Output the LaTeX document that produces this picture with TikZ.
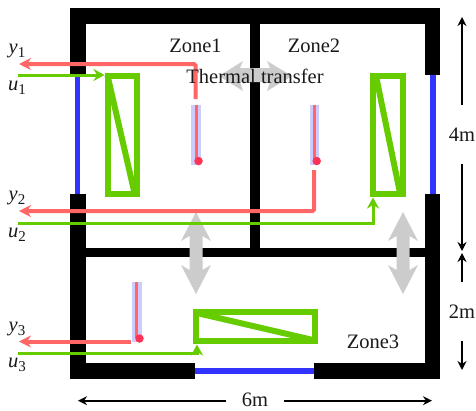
\documentclass[tikz,border=0pt]{standalone}
\usepackage{fontspec}
\setmainfont{Liberation Serif}
\usetikzlibrary{arrows.meta}
\definecolor{wallblue}{RGB}{51,51,255}
\definecolor{heatgreen}{RGB}{102,204,0}
\definecolor{sigred}{RGB}{255,102,102}
\definecolor{dotred}{RGB}{255,51,85}
\definecolor{sensorbg}{RGB}{204,204,255}
\definecolor{flowgray}{RGB}{204,204,204}
\newcommand{\lab}[2]{\textit{#1}\raisebox{-4pt}{\fontsize{15}{15}\selectfont #2}}
\tikzset{
  x=1pt,y=-1pt,
  wall/.style={fill=black,draw=none},
  window/.style={draw=wallblue,line width=5.5pt},
  heater/.style={draw=heatgreen,line width=6pt,line join=miter},
  heaterbox/.style={draw=heatgreen,line width=6pt,rectangle,inner sep=0pt,outer sep=3pt},
  sigy/.style={draw=sigred,line width=4pt,-{Stealth[length=12pt,width=12pt]}},
  sigu/.style={draw=heatgreen,line width=3pt,-{Stealth[length=11pt,width=12pt]}},
  sensorbar/.style={fill=sensorbg,draw=none},
  sensorline/.style={draw=sigred,line width=3pt},
  sensordot/.style={circle,fill=dotred,draw=none,minimum size=8.5pt,inner sep=0pt},
  flow/.style={fill=flowgray,draw=none},
  dim/.style={draw=black,line width=1.7pt,-{Stealth[length=9pt,width=9pt]}},
  txt/.style={font=\fontsize{20.5}{21}\selectfont,text=black!90,inner sep=0pt},
}
\begin{document}
\begin{tikzpicture}
\useasboundingbox (0,0) rectangle (476,410);
% windows
\draw[window] (77.5,75) -- (77.5,194);
\draw[window] (433,75) -- (433,194);
\draw[window] (195,371) -- (314,371);
% walls
\fill[wall] (70,8) rectangle (440,24);
\fill[wall] (70,8) rectangle (85.5,75);
\fill[wall] (70,194) rectangle (85.5,379);
\fill[wall] (424.7,8) rectangle (440,75);
\fill[wall] (424.7,194) rectangle (440,379);
\fill[wall] (70,363) rectangle (195,379);
\fill[wall] (314,363) rectangle (440,379);
\fill[wall] (85,248) rectangle (425,257);
\fill[wall] (250,24) rectangle (260,248);
% heat-flow arrows
\fill[flow] (219,76) -- (243,61) -- (240,68) -- (270,68) -- (267,61) -- (292,76) -- (267,91) -- (270,82) -- (240,82) -- (243,91) -- cycle;
\foreach \xc in {196,403}{
  \fill[flow] (\xc,212) -- ({\xc+15},241) -- ({\xc+6.5},236) -- ({\xc+6.5},270) -- ({\xc+15},265) -- (\xc,294) -- ({\xc-15},265) -- ({\xc-6.5},270) -- ({\xc-6.5},236) -- ({\xc-15},241) -- cycle;
}
% heaters
\node[heaterbox,minimum width=29pt,minimum height=118.5pt] (h1) at (122,134.75) {};
\draw[heater] (h1.north west) ++(3,3) -- (134.5,193);
\node[heaterbox,minimum width=30pt,minimum height=118.5pt] (h2) at (388,134.75) {};
\draw[heater] (376,76) -- (400,193);
\node[heaterbox,minimum width=119pt,minimum height=29pt] (h3) at (255.2,326.5) {};
\draw[heater] (197,313) -- (313,340);
% sensors
\fill[sensorbar] (191,105) rectangle (200.7,165);
\draw[sensorline] (196,105) -- (196,160);
\node[sensordot] (s1) at (198.5,161) {};
\fill[sensorbar] (309.7,105) rectangle (319,165);
\draw[sensorline] (314,105) -- (314,160);
\node[sensordot] (s2) at (316.7,161) {};
\fill[sensorbar] (132,281.7) rectangle (141.5,342);
\draw[sensorline] (136.5,282) -- (136.5,338);
\node[sensordot] (s3) at (139.5,338.5) {};
% free ends
\coordinate (y1end) at (19,64);
\coordinate (y2end) at (19,211);
\coordinate (y3end) at (19,341.5);
\coordinate (u1start) at (18,75);
\coordinate (u2start) at (18,223);
\coordinate (u3start) at (18,353);
% signals
\draw[sigy,rounded corners=1.5pt] (195.5,99) |- (y1end);
\draw[sigy,rounded corners=1.5pt] (314,170) |- (y2end);
\draw[sigy] (131,341.5) -- (y3end);
\draw[sigu] (u1start) -- (h1.west |- u1start);
\draw[sigu] (u2start) -| (373,197.5);
\draw[sigu] (u3start) -| (197,344.5);
% dimensions
\coordinate (d4a) at (462,105); \coordinate (d4b) at (462,17);
\coordinate (d4c) at (462,164); \coordinate (d4d) at (462,251);
\coordinate (d2a) at (462,282); \coordinate (d2b) at (462,253);
\coordinate (d2c) at (462,341); \coordinate (d2d) at (462,370);
\coordinate (d6a) at (226,400.7); \coordinate (d6b) at (78,400.7);
\coordinate (d6c) at (284,400.7); \coordinate (d6d) at (432,400.7);
\draw[dim] (d4a) -- (d4b);
\draw[dim] (d4c) -- (d4d);
\draw[dim] (d2a) -- (d2b);
\draw[dim] (d2c) -- (d2d);
\draw[dim] (d6a) -- (d6b);
\draw[dim] (d6c) -- (d6d);
% text
\node[txt] (z1) at (195.5,46) {Zone1};
\node[txt] (z2) at (314,46) {Zone2};
\node[txt] (z3) at (373,342) {Zone3};
\node[txt] (tt) at (255,76) {Thermal transfer};
\node[txt] (m4) at (462,135) {4m};
\node[txt] (m2) at (462,312) {2m};
\node[txt] (m6) at (255,399.5) {6m};
\node[txt] (ly1) at (17,51) {\lab{y}{1}};
\node[txt] (lu1) at (17,88) {\lab{u}{1}};
\node[txt] (ly2) at (17,198) {\lab{y}{2}};
\node[txt] (lu2) at (17,235) {\lab{u}{2}};
\node[txt] (ly3) at (17,329) {\lab{y}{3}};
\node[txt] (lu3) at (17,365) {\lab{u}{3}};
\end{tikzpicture}
\end{document}
